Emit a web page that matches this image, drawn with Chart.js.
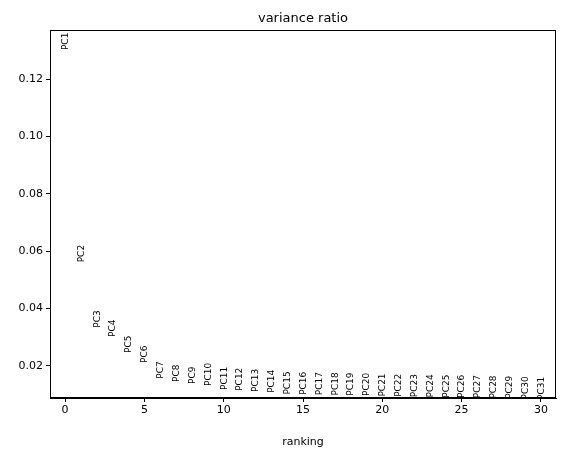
<!DOCTYPE html>
<html><head><script src="https://cdn.jsdelivr.net/npm/chart.js@4"></script>
<style>body{margin:0;background:#fff}</style></head>
<body><div style="width:566px;height:453px"><canvas id="c"></canvas></div>
<script>
const labels = Array.from({length:31},(_,i)=>'PC'+(i+1));
const ranks = [0,1,2,3,4,5,6,7,8,9,10,11,12,13,14,15,16,17,18,19,20,21,22,23,24,25,26,27,28,29,30];
const ratios = [0.1301,0.0561,0.0333,0.0301,0.0245,0.0210,0.0155,0.0144,0.0137,0.0130,0.0116,0.0113,0.0109,0.0106,0.0100,
0.0099,0.0098,0.0097,0.0096,0.0095,0.0093,0.0092,0.0091,0.0090,0.0089,0.0088,0.0087,0.0086,0.0085,0.0083,0.0081];
const yTicks=[0.02,0.04,0.06,0.08,0.10,0.12];
const xTicks=[0,5,10,15,20,25,30];
const F='"DejaVu Sans"';
const deco={id:'deco',afterDatasetsDraw(ch){
 const c=ch.ctx,a=ch.chartArea,xs=ch.scales.x,ys=ch.scales.y;
 c.save();c.fillStyle='#000';c.font='9px '+F;c.textAlign='left';c.textBaseline='middle';
 ratios.forEach((v,i)=>{c.save();c.translate(xs.getPixelForValue(ranks[i]),ys.getPixelForValue(v));c.rotate(-Math.PI/2);c.fillText(labels[i],0,0.5);c.restore();});
 c.strokeStyle='#000';c.lineWidth=1;c.strokeRect(a.left+0.5,a.top+0.5,a.right-a.left-1,a.bottom-a.top-1);
 c.font='13px '+F;c.textAlign='center';c.textBaseline='alphabetic';c.fillText('variance ratio',(a.left+a.right)/2,a.top-8);
 c.restore();}};
new Chart(document.getElementById('c'),{type:'scatter',
 data:{datasets:[{data:ranks.map((r,i)=>({x:r,y:ratios[i]})),pointRadius:0,showLine:false}]},
 options:{responsive:true,maintainAspectRatio:false,animation:false,
 layout:{padding:{top:30,right:10,left:0,bottom:0}},
 plugins:{legend:{display:false},tooltip:{enabled:false}},
 scales:{
  x:{type:'linear',min:-0.95,max:30.95,
   afterBuildTicks(s){s.ticks=xTicks.map(v=>({value:v}));},
   afterFit(s){s.height=55;},
   ticks:{color:'#000',font:{family:F,size:11},padding:2,maxRotation:0},
   grid:{drawOnChartArea:false,color:'#000',tickLength:4},border:{color:'#000'},
   title:{display:true,text:'ranking',color:'#000',font:{family:F,size:11},padding:{top:0}}},
  y:{min:0.0088,max:0.1371,
   afterBuildTicks(s){s.ticks=yTicks.map(v=>({value:v}));},
   afterFit(s){s.width=50;},
   ticks:{color:'#000',font:{family:F,size:11},padding:3,callback:v=>v.toFixed(2)},
   grid:{drawOnChartArea:false,color:'#000',tickLength:4},border:{color:'#000'}}}},
 plugins:[deco]});
</script></body></html>
